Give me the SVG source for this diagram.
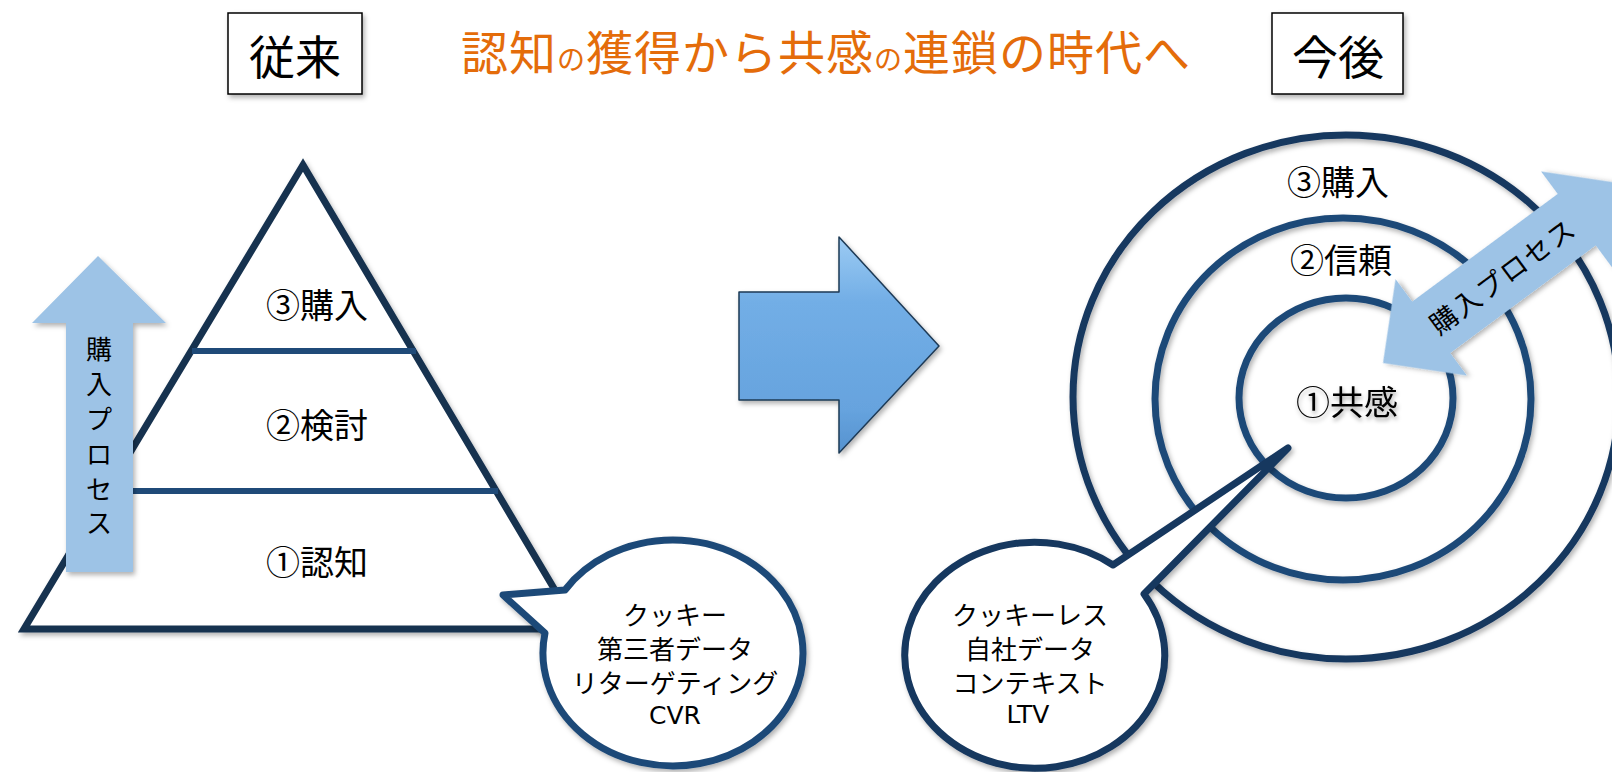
<svg xmlns="http://www.w3.org/2000/svg" width="1612" height="772" viewBox="0 0 1612 772">
<style>
.jp{font-family:"Noto Sans CJK JP","Noto Sans",sans-serif;fill:#000}
.lbl{font-size:34px;text-anchor:middle;dominant-baseline:central}
.bub{font-size:26px;text-anchor:middle;dominant-baseline:central}
.vt{font-size:26px;text-anchor:middle;dominant-baseline:central}
.lat{font-family:"DejaVu Sans","Noto Sans CJK JP",sans-serif;font-size:25px;text-anchor:middle;dominant-baseline:central;fill:#000}
.hdr{font-size:46px;text-anchor:middle;dominant-baseline:central}
.box{fill:#fff;stroke:#000;stroke-width:1.5}
.ring1{fill:none;stroke:#17375E;stroke-width:7}
.ring2{fill:none;stroke:#1F4A78;stroke-width:7}
.tri{fill:#fff;stroke:#17324F;stroke-width:7;stroke-linejoin:miter;stroke-miterlimit:10}
.div{stroke:#1F4A78;stroke-width:6}
.lb{fill:#9DC3E6}
.bubble{fill:#fff;stroke:#17375E;stroke-width:7;stroke-linejoin:round}
.bubble2{fill:#fff;stroke:#1F4A78;stroke-width:7;stroke-linejoin:round}
</style>
<defs>
<filter id="sh" x="-20%" y="-20%" width="140%" height="140%"><feDropShadow dx="2" dy="3" stdDeviation="2.5" flood-color="#000" flood-opacity="0.3"/></filter>
<filter id="tsh" x="-20%" y="-30%" width="140%" height="160%"><feDropShadow dx="1" dy="3" stdDeviation="2" flood-color="#000" flood-opacity="0.35"/></filter>
<linearGradient id="ag" x1="0" y1="0" x2="0" y2="1">
<stop offset="0" stop-color="#9CCBF3"/>
<stop offset="0.3" stop-color="#72AEE6"/>
<stop offset="0.8" stop-color="#66A3DE"/>
<stop offset="1" stop-color="#5592CF"/>
</linearGradient>
</defs>

<g id="header-left">
<rect class="box" x="228" y="13" width="134" height="81" filter="url(#sh)"/>
<text class="jp hdr" x="295" y="54">従来</text>
</g>
<g id="title">
<text class="jp" x="461" y="70" font-size="47" style="fill:#E46C0A" letter-spacing="1">認知<tspan font-size="28">の</tspan>獲得から共感<tspan font-size="28">の</tspan>連鎖の時代へ</text>
</g>
<g id="header-right">
<rect class="box" x="1272" y="13" width="131" height="81" filter="url(#sh)"/>
<text class="jp hdr" x="1338" y="54">今後</text>
</g>

<g id="pyramid">
<polygon class="tri" points="303,165 578,629 24,629" filter="url(#sh)"/>
<line class="div" x1="192" y1="351" x2="416" y2="351"/>
<line class="div" x1="130" y1="491" x2="498" y2="491"/>
<text class="jp lbl" x="317" y="303">③購入</text>
<text class="jp lbl" x="317" y="423">②検討</text>
<text class="jp lbl" x="317" y="560">①認知</text>
</g>

<g id="process-arrow-up">
<polygon class="lb" points="98,256 166,323 133,323 133,572 66,572 66,323 32,323" filter="url(#sh)"/>
<text class="jp vt" x="99" y="347">購</text>
<text class="jp vt" x="99" y="382">入</text>
<text class="jp vt" x="99" y="417">プ</text>
<text class="jp vt" x="99" y="452">ロ</text>
<text class="jp vt" x="99" y="487">セ</text>
<text class="jp vt" x="99" y="521">ス</text>
</g>

<g id="bubble-left">
<path class="bubble2" d="M 565 590 L 503 595 L 545 633 A 130 113 0 1 0 565 590 Z" filter="url(#sh)"/>
<text class="jp bub" x="675" y="613">クッキー</text>
<text class="jp bub" x="675" y="647">第三者データ</text>
<text class="jp bub" x="675" y="681">リターゲティング</text>
<text class="lat" x="675" y="715">CVR</text>
</g>

<g id="transition-arrow">
<polygon points="739,292 839,292 839,237 939,346 839,453 839,400 739,400" fill="url(#ag)" stroke="#1E3A56" stroke-width="1.5" stroke-linejoin="round" filter="url(#sh)"/>
</g>

<g id="rings">
<ellipse class="ring1" cx="1346" cy="397" rx="273" ry="262" filter="url(#sh)"/>
<ellipse class="ring2" cx="1343" cy="399" rx="188" ry="181" filter="url(#sh)"/>
<ellipse class="ring2" cx="1346" cy="398" rx="107" ry="100" filter="url(#sh)"/>
<text class="jp lbl" x="1338" y="180">③購入</text>
<text class="jp lbl" x="1341" y="258">②信頼</text>
<text class="jp lbl" x="1347" y="400" filter="url(#tsh)">①共感</text>
</g>

<g id="process-arrow-diagonal" transform="translate(1383,363) rotate(-36.5)">
<polygon class="lb" points="0,0 60,-60 60,-32 241,-32 241,-60 301,0 241,60 241,32 60,32 60,60" filter="url(#sh)"/>
<text class="jp" x="148" y="0" font-size="27" letter-spacing="2" text-anchor="middle" dominant-baseline="central">購入プロセス</text>
</g>

<g id="bubble-right">
<path class="bubble" d="M 1113 565 L 1288 448 L 1144 594 A 130 113 0 1 1 1113 565 Z" filter="url(#sh)"/>
<text class="jp bub" x="1030" y="613">クッキーレス</text>
<text class="jp bub" x="1030" y="647">自社データ</text>
<text class="jp bub" x="1030" y="681">コンテキスト</text>
<text class="lat" x="1028" y="714">LTV</text>
</g>
</svg>
